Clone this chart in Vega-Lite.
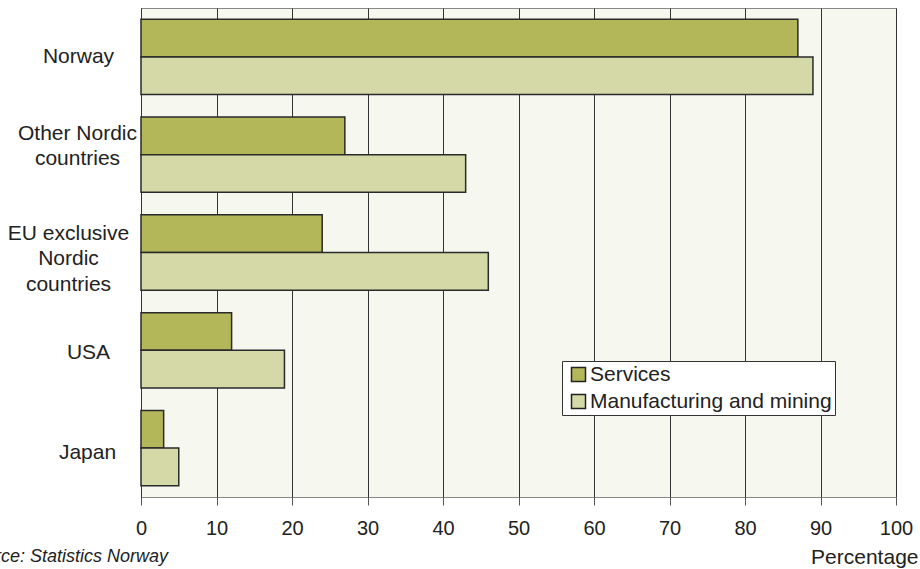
{
  "$schema": "https://vega.github.io/schema/vega-lite/v6.json",
  "width": 755,
  "height": 489,
  "autosize": {"type": "none"},
  "padding": {"left": 141, "top": 8, "right": 24, "bottom": 72},
  "background": "#ffffff",
  "config": {
    "font": "Liberation Sans",
    "view": {"fill": "#f6f7ef", "stroke": "#888888", "strokeWidth": 1},
    "axis": {"labelColor": "#222222", "titleColor": "#222222", "labelFont": "Liberation Sans", "titleFont": "Liberation Sans"}
  },
  "title": {
    "text": "Source: Statistics Norway",
    "orient": "bottom",
    "anchor": "start",
    "frame": "group",
    "align": "right",
    "dx": 27,
    "offset": -19,
    "font": "Liberation Sans",
    "fontSize": 18,
    "fontStyle": "italic",
    "fontWeight": "normal",
    "color": "#222222"
  },
  "data": {
    "values": [
      {"country": "Norway", "sector": "Services", "value": 87},
      {"country": "Norway", "sector": "Manufacturing and mining", "value": 89},
      {"country": "Other Nordic countries", "sector": "Services", "value": 27},
      {"country": "Other Nordic countries", "sector": "Manufacturing and mining", "value": 43},
      {"country": "EU exclusive Nordic countries", "sector": "Services", "value": 24},
      {"country": "EU exclusive Nordic countries", "sector": "Manufacturing and mining", "value": 46},
      {"country": "USA", "sector": "Services", "value": 12},
      {"country": "USA", "sector": "Manufacturing and mining", "value": 19},
      {"country": "Japan", "sector": "Services", "value": 3},
      {"country": "Japan", "sector": "Manufacturing and mining", "value": 5}
    ]
  },
  "mark": {"type": "bar", "stroke": "#2a2a2a", "strokeWidth": 1.5},
  "encoding": {
    "y": {
      "field": "country",
      "type": "nominal",
      "sort": ["Norway", "Other Nordic countries", "EU exclusive Nordic countries", "USA", "Japan"],
      "scale": {"paddingInner": 0.23, "paddingOuter": 0.115},
      "axis": {
        "title": null,
        "ticks": false,
        "domain": true,
        "domainColor": "#333333",
        "domainWidth": 1,
        "labelAlign": "center",
        "labelFontSize": 21,
        "labelLineHeight": 25.5,
        "labelLimit": 300,
        "labelExpr": "datum.value == 'Other Nordic countries' ? ['Other Nordic','countries'] : datum.value == 'EU exclusive Nordic countries' ? ['EU exclusive','Nordic','countries'] : datum.value",
        "labelOffset": {
          "condition": [
            {"test": "datum.value == 'Other Nordic countries'", "value": -21},
            {"test": "datum.value == 'EU exclusive Nordic countries'", "value": -19},
            {"test": "datum.value == 'USA'", "value": 3},
            {"test": "datum.value == 'Japan'", "value": 5}
          ],
          "value": 0
        },
        "labelPadding": {
          "condition": [
            {"test": "datum.value == 'Other Nordic countries'", "value": 64},
            {"test": "datum.value == 'EU exclusive Nordic countries'", "value": 73},
            {"test": "datum.value == 'USA'", "value": 53},
            {"test": "datum.value == 'Japan'", "value": 54}
          ],
          "value": 63
        }
      }
    },
    "yOffset": {
      "field": "sector",
      "type": "nominal",
      "sort": ["Services", "Manufacturing and mining"],
      "scale": {"paddingInner": 0, "paddingOuter": 0}
    },
    "x": {
      "field": "value",
      "type": "quantitative",
      "scale": {"domain": [0, 100], "nice": false},
      "axis": {
        "title": "Percentage",
        "titleFontSize": 21,
        "titleFontWeight": "normal",
        "titleAlign": "right",
        "titleAnchor": "end",
        "titleX": 777,
        "titleY": 66,
        "titleBaseline": "alphabetic",
        "values": [0, 10, 20, 30, 40, 50, 60, 70, 80, 90, 100],
        "grid": true,
        "gridColor": "#333333",
        "gridWidth": 1,
        "gridOpacity": 1,
        "tickSize": 8,
        "tickColor": "#555555",
        "domain": false,
        "labelFontSize": 20,
        "labelPadding": 13,
        "labelFlush": false
      }
    },
    "color": {
      "field": "sector",
      "type": "nominal",
      "scale": {"domain": ["Services", "Manufacturing and mining"], "range": ["#b3b75a", "#d5d8a7"]},
      "legend": {
        "title": null,
        "orient": "none",
        "legendX": 421,
        "legendY": 353,
        "fillColor": "#ffffff",
        "strokeColor": "#333333",
        "padding": 3,
        "symbolType": "square",
        "symbolSize": 196,
        "symbolStrokeColor": "#222222",
        "symbolStrokeWidth": 1.5,
        "symbolOffset": 3,
        "labelFontSize": 21,
        "labelLimit": 400,
        "labelColor": "#222222",
        "labelOffset": 1,
        "rowPadding": 5
      }
    }
  }
}
